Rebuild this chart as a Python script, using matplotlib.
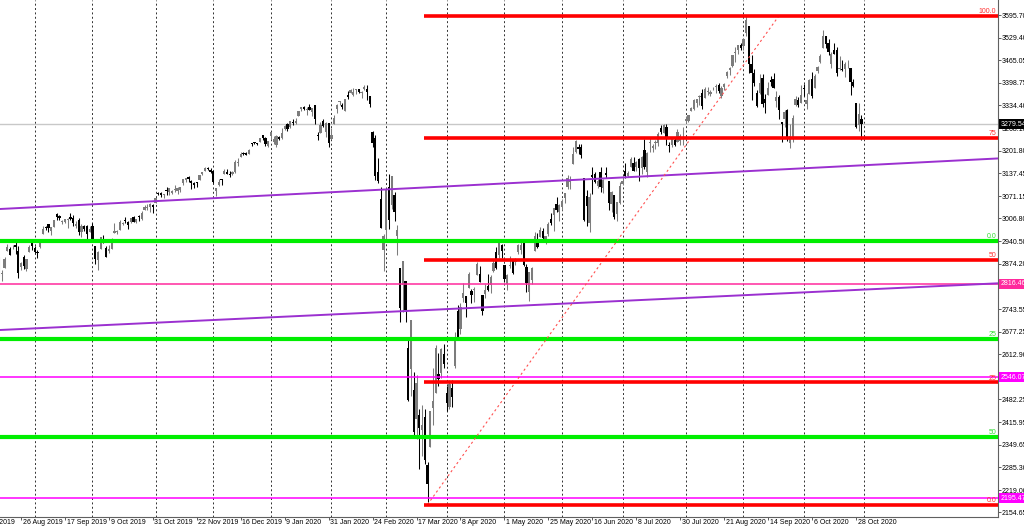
import matplotlib
matplotlib.use("Agg")
import matplotlib.pyplot as plt
import matplotlib.transforms as mtransforms
import numpy as np
import pandas as pd

# US500 daily bars, 13 Aug 2019 .. 30 Oct 2020
# (every weekday except 25 Dec, 1 Jan and Good Friday)
OPEN = [
    2880, 2894, 2846, 2864, 2913, 2919, 2922, 2930, 2911, 2866, 2893, 2861, 2910, 2937,
    2920, 2910, 2924, 2960, 2980, 2989, 2971, 2982, 3019, 3013, 2997, 2996, 3001, 3010, 3008, 2983, 3003, 2968, 2985, 2985, 2967,
    2983, 2925, 2885, 2918, 2945, 2920, 2911, 2919, 2963, 2966, 2974, 2990, 3001, 2996, 2996, 3010, 2995, 3014, 3004, 3032, 3036, 3039, 3046,
    3050, 3079, 3081, 3075, 3087, 3082, 3081, 3090, 3085, 3090, 3108, 3118, 3127, 3114, 3109, 3112, 3118, 3134, 3145, 3153, 3148,
    3144, 3087, 3103, 3119, 3134, 3141, 3135, 3136, 3141, 3166, 3183, 3195, 3195, 3192, 3223, 3226, 3225, 3227, 3247, 3240, 3215,
    3245, 3227, 3218, 3241, 3238, 3266, 3281, 3271, 3285, 3282, 3302, 3323, 3329, 3321, 3330, 3316, 3334, 3248, 3255, 3289, 3256, 3282,
    3235, 3280, 3324, 3344, 3335, 3318, 3365, 3370, 3365, 3378, 3380, 3369, 3380, 3380, 3360, 3258, 3238, 3140, 3063, 2916,
    2974, 3096, 3046, 3075, 2954, 2863, 2814, 2826, 2631, 2569, 2508, 2425, 2436, 2393, 2431, 2291, 2345, 2458, 2501, 2556, 2558, 2614,
    2499, 2459, 2514, 2578, 2738, 2686, 2777, 2782, 2805, 2796, 2799, 2843, 2846, 2785, 2787, 2810, 2812, 2855, 2909, 2901, 2930,
    2870, 2815, 2868, 2884, 2879, 2908, 2915, 2940, 2865, 2794, 2829, 2913, 2948, 2953, 2970, 2948, 2960, 3004, 3016, 3047, 3026,
    3038, 3064, 3098, 3111, 3163, 3199, 3213, 3213, 3123, 3072, 2993, 3131, 3136, 3101, 3140, 3095, 3138, 3115, 3047, 3073, 3018, 3050,
    3105, 3143, 3130, 3155, 3167, 3154, 3177, 3152, 3205, 3141, 3226, 3209, 3224, 3225, 3268, 3254, 3271, 3218, 3219, 3234, 3227, 3231, 3270,
    3289, 3289, 3318, 3324, 3340, 3357, 3370, 3356, 3372, 3368, 3380, 3388, 3392, 3360, 3386, 3418, 3435, 3449, 3485, 3494, 3509,
    3507, 3543, 3564, 3453, 3427, 3371, 3369, 3413, 3352, 3363, 3407, 3411, 3346, 3357, 3285, 3295, 3320, 3226, 3237, 3334, 3350, 3341,
    3385, 3339, 3368, 3409, 3385, 3434, 3459, 3500, 3535, 3515, 3453, 3493, 3494, 3439, 3440, 3438, 3464, 3441, 3403, 3342, 3277, 3294,
]
HIGH = [
    2943, 2894, 2856, 2893, 2931, 2923, 2929, 2939, 2927, 2879, 2899, 2890, 2930, 2940,
    2925, 2914, 2938, 2985, 2985, 2990, 2980, 3001, 3022, 3017, 3003, 3006, 3007, 3022, 3016, 2999, 3007, 2990, 2988, 2988, 2983,
    2993, 2925, 2911, 2953, 2959, 2926, 2929, 2949, 2993, 2972, 3003, 2997, 3009, 3000, 3008, 3014, 3005, 3016, 3027, 3044, 3047, 3050, 3047,
    3066, 3084, 3084, 3078, 3097, 3093, 3088, 3103, 3098, 3097, 3120, 3124, 3128, 3118, 3112, 3113, 3133, 3142, 3155, 3156, 3151,
    3145, 3095, 3120, 3120, 3150, 3149, 3143, 3143, 3176, 3182, 3198, 3198, 3199, 3206, 3226, 3227, 3226, 3240, 3247, 3241, 3232,
    3258, 3246, 3247, 3245, 3268, 3276, 3283, 3288, 3294, 3298, 3317, 3330, 3331, 3329, 3337, 3327, 3334, 3258, 3286, 3293, 3285, 3282,
    3268, 3306, 3337, 3347, 3341, 3352, 3376, 3381, 3385, 3380, 3382, 3375, 3394, 3392, 3360, 3260, 3247, 3182, 3098, 2960,
    3091, 3136, 3130, 3083, 2986, 2863, 2882, 2826, 2660, 2711, 2562, 2553, 2453, 2466, 2453, 2300, 2449, 2572, 2638, 2615, 2631, 2641,
    2522, 2539, 2538, 2676, 2756, 2761, 2818, 2782, 2851, 2801, 2807, 2880, 2868, 2785, 2815, 2845, 2842, 2887, 2922, 2946, 2931,
    2870, 2844, 2898, 2887, 2892, 2932, 2945, 2945, 2875, 2852, 2865, 2968, 2965, 2980, 2978, 2956, 2995, 3021, 3036, 3068, 3049,
    3063, 3081, 3131, 3129, 3212, 3233, 3223, 3223, 3123, 3089, 3079, 3154, 3141, 3121, 3156, 3120, 3155, 3115, 3086, 3073, 3053, 3111,
    3128, 3166, 3145, 3183, 3184, 3172, 3180, 3186, 3236, 3200, 3238, 3221, 3233, 3258, 3278, 3280, 3280, 3227, 3241, 3243, 3264, 3250, 3272,
    3302, 3307, 3330, 3352, 3352, 3364, 3381, 3387, 3387, 3378, 3387, 3396, 3399, 3391, 3399, 3433, 3444, 3481, 3502, 3510, 3514,
    3528, 3594, 3564, 3479, 3440, 3379, 3424, 3425, 3368, 3402, 3419, 3429, 3376, 3363, 3285, 3320, 3324, 3279, 3306, 3361, 3357, 3393,
    3397, 3370, 3409, 3432, 3426, 3447, 3483, 3552, 3535, 3527, 3489, 3515, 3502, 3476, 3465, 3460, 3466, 3441, 3409, 3342, 3341, 3305,
]
LOW = [
    2877, 2839, 2825, 2864, 2913, 2899, 2917, 2904, 2834, 2856, 2860, 2853, 2910, 2914,
    2905, 2892, 2921, 2960, 2972, 2967, 2958, 2980, 3003, 3002, 2991, 2993, 2979, 3003, 2985, 2979, 2957, 2952, 2969, 2946, 2967,
    2938, 2874, 2856, 2918, 2936, 2893, 2907, 2917, 2963, 2962, 2974, 2986, 2992, 2976, 2993, 2995, 2992, 3000, 3001, 3032, 3031, 3026, 3023,
    3050, 3074, 3067, 3065, 3075, 3073, 3076, 3084, 3078, 3082, 3104, 3112, 3113, 3091, 3095, 3097, 3118, 3131, 3143, 3147, 3139,
    3110, 3070, 3100, 3104, 3134, 3135, 3126, 3133, 3138, 3157, 3183, 3191, 3191, 3192, 3216, 3222, 3220, 3227, 3234, 3215, 3213,
    3235, 3222, 3214, 3233, 3236, 3263, 3260, 3268, 3277, 3280, 3302, 3318, 3320, 3307, 3320, 3302, 3281, 3234, 3253, 3271, 3242, 3214,
    3235, 3280, 3313, 3334, 3322, 3317, 3352, 3369, 3360, 3368, 3370, 3356, 3379, 3350, 3328, 3214, 3119, 3108, 2978, 2855,
    2946, 2976, 3034, 2999, 2901, 2707, 2734, 2706, 2478, 2492, 2380, 2367, 2281, 2319, 2295, 2184, 2345, 2407, 2501, 2520, 2545, 2572,
    2447, 2455, 2459, 2574, 2657, 2670, 2763, 2721, 2805, 2761, 2765, 2843, 2821, 2727, 2775, 2796, 2791, 2852, 2860, 2892, 2892,
    2822, 2798, 2863, 2846, 2871, 2902, 2904, 2869, 2793, 2767, 2817, 2913, 2921, 2953, 2939, 2933, 2955, 2988, 2970, 3024, 2999,
    3032, 3052, 3091, 3091, 3163, 3196, 3193, 3181, 2999, 2984, 2966, 3076, 3109, 3093, 3084, 3079, 3123, 3032, 3024, 3004, 2999, 3047,
    3102, 3124, 3125, 3155, 3143, 3145, 3115, 3136, 3149, 3127, 3200, 3198, 3206, 3215, 3251, 3253, 3220, 3200, 3214, 3216, 3227, 3219, 3220,
    3284, 3287, 3317, 3320, 3329, 3336, 3323, 3356, 3363, 3362, 3379, 3371, 3369, 3354, 3379, 3413, 3423, 3444, 3460, 3484, 3493,
    3494, 3535, 3427, 3349, 3390, 3329, 3367, 3329, 3311, 3363, 3390, 3385, 3328, 3293, 3229, 3270, 3232, 3209, 3228, 3332, 3328, 3340,
    3362, 3323, 3368, 3354, 3385, 3429, 3458, 3499, 3500, 3480, 3441, 3484, 3419, 3435, 3433, 3415, 3441, 3364, 3388, 3268, 3259, 3233,
]
CLOSE = [
    2926, 2840, 2848, 2889, 2924, 2900, 2924, 2923, 2847, 2878, 2869, 2888, 2924, 2926,
    2910, 2906, 2937, 2976, 2979, 2979, 2980, 3001, 3010, 3007, 2998, 3006, 3006, 3006, 2992, 2991, 2966, 2984, 2977, 2962, 2977,
    2940, 2888, 2910, 2952, 2938, 2893, 2919, 2938, 2970, 2966, 2995, 2990, 2998, 2986, 3007, 2996, 3005, 3010, 3023, 3039, 3036, 3047, 3038,
    3066, 3078, 3075, 3077, 3085, 3093, 3087, 3092, 3094, 3097, 3120, 3122, 3120, 3108, 3104, 3110, 3133, 3140, 3153, 3150, 3141,
    3113, 3093, 3113, 3117, 3145, 3136, 3133, 3142, 3169, 3168, 3192, 3193, 3191, 3205, 3221, 3224, 3223, 3240, 3240, 3221, 3231,
    3258, 3235, 3246, 3237, 3253, 3275, 3265, 3288, 3283, 3289, 3317, 3329, 3322, 3321, 3321, 3326, 3295, 3244, 3276, 3273, 3284, 3226,
    3249, 3298, 3334, 3345, 3328, 3352, 3358, 3379, 3374, 3380, 3374, 3370, 3386, 3373, 3338, 3226, 3128, 3116, 2979, 2954,
    3090, 3003, 3130, 3024, 2972, 2747, 2882, 2741, 2481, 2711, 2386, 2529, 2398, 2409, 2305, 2237, 2447, 2476, 2630, 2541, 2627, 2585,
    2471, 2527, 2489, 2664, 2660, 2750, 2790, 2762, 2846, 2783, 2800, 2875, 2823, 2737, 2799, 2798, 2837, 2878, 2863, 2939, 2912,
    2830, 2843, 2868, 2848, 2881, 2930, 2930, 2870, 2820, 2852, 2864, 2954, 2922, 2972, 2949, 2955, 2990, 2992, 3036, 3030, 3044,
    3056, 3081, 3123, 3112, 3194, 3232, 3207, 3190, 3002, 3041, 3067, 3125, 3113, 3115, 3098, 3118, 3131, 3050, 3084, 3009, 3053, 3100,
    3116, 3130, 3138, 3179, 3145, 3169, 3152, 3185, 3155, 3197, 3227, 3215, 3224, 3251, 3257, 3276, 3236, 3216, 3239, 3218, 3258, 3246, 3271,
    3295, 3306, 3327, 3349, 3351, 3360, 3333, 3380, 3373, 3373, 3381, 3389, 3375, 3385, 3397, 3431, 3443, 3479, 3485, 3508, 3500,
    3527, 3580, 3455, 3427, 3400, 3332, 3399, 3339, 3341, 3384, 3401, 3385, 3357, 3319, 3281, 3315, 3237, 3246, 3298, 3351, 3335, 3363,
    3381, 3348, 3408, 3361, 3419, 3446, 3477, 3534, 3512, 3489, 3483, 3484, 3427, 3443, 3436, 3453, 3465, 3401, 3391, 3271, 3310, 3279.54,
]

FIRST_DAY = "2019-08-13"
LAST_DAY = "2020-10-30"
NO_BAR_DAYS = ["2019-12-25", "2020-01-01", "2020-04-10"]

PRICE_TICKS = [3595.70, 3529.40, 3465.05, 3398.75, 3334.40, 3268.10, 3201.80,
               3137.45, 3071.15, 3006.80, 2940.50, 2874.20, 2807.85, 2743.55,
               2677.25, 2612.90, 2546.60, 2482.25, 2415.95, 2349.65, 2285.30,
               2219.00, 2154.65]

DATE_LABELS = ["2 Aug 2019", "26 Aug 2019", "17 Sep 2019", "9 Oct 2019",
               "31 Oct 2019", "22 Nov 2019", "16 Dec 2019", "9 Jan 2020",
               "31 Jan 2020", "24 Feb 2020", "17 Mar 2020", "8 Apr 2020",
               "1 May 2020", "25 May 2020", "16 Jun 2020", "8 Jul 2020",
               "30 Jul 2020", "21 Aug 2020", "14 Sep 2020", "6 Oct 2020",
               "28 Oct 2020"]
LABEL_STEP = 16          # bars between time-scale labels
FIRST_LABEL_BAR = -7     # "2 Aug 2019" sits 7 bars before the first shown bar

# red Fibonacci retracement (Mar low -> Sep high)
RED_FIB_LOW = 2177.0
RED_FIB_HIGH = 3594.0
RED_FIB_START = "2020-03-23"
RED_FIB_END = "2020-09-18"
RED_LEVELS = [0.0, 25, 50, 75, 100.0]
RED_LEVEL_TEXT = ["0.0", "25", "50", "75", "100.0"]

# green Fibonacci levels
GREEN_FIB_ZERO = 2941.0
GREEN_FIB_HUNDRED = 1804.0
GREEN_LEVELS = [0.0, 25, 50]
GREEN_LEVEL_TEXT = ["0.0", "25", "50"]

# horizontal marks with price boxes
MARK_PRICES = [2816.46, 2546.07, 2195.47]
MARK_COLORS = ["#ff2a9d", "#ff00ff", "#ff00ff"]
LAST_PRICE = 3279.54

# purple channel (anchor dates / prices)
TREND_DATES = ["2019-08-14", "2020-10-30"]
TREND_UPPER = [3033.4, 3160.0]
TREND_LOWER = [2682.8, 2799.7]

FS = 5.0
FONT = "Liberation Sans"


def main() -> None:
    days = pd.bdate_range(FIRST_DAY, LAST_DAY)
    days = days[~days.isin(pd.to_datetime(NO_BAR_DAYS))]
    pos = {d: i for i, d in enumerate(days)}
    n = len(CLOSE)
    x = np.arange(n)
    o, h, l, c = (np.asarray(v, dtype=float) for v in (OPEN, HIGH, LOW, CLOSE))

    fig = plt.figure(figsize=(10.24, 5.29), dpi=100, facecolor="white")
    ax = fig.add_axes([0, 1 - 517 / 529, 998 / 1024, 517 / 529])
    x_lo, x_hi = 1.355, 364.7
    y_lo, y_hi = 2141.0, 3639.2
    ax.set_xlim(x_lo, x_hi)
    ax.set_ylim(y_lo, y_hi)

    # month separators
    months = [i for i in range(1, n) if days[i].month != days[i - 1].month]
    months.append(n)  # 2 Nov 2020, next bar
    ax.vlines(months, y_lo, y_hi, colors="#303030", linestyles=(0, (2, 2.5)),
              lw=0.7, zorder=1)

    # candles
    up = c >= o
    col = np.where(up, "#7c7c7c", "#000000")
    ax.vlines(x, l, h, colors=col, lw=0.75, zorder=2)
    body_lo = np.minimum(o, c)
    body_h = np.maximum(np.abs(c - o), 2.5)
    ax.bar(x, body_h, bottom=body_lo, width=0.82, color=col, lw=0, zorder=2)

    # last price line
    ax.axhline(LAST_PRICE, color="#c8c8c8", lw=1.0, zorder=1.5)

    # green fib
    tr_y = mtransforms.blended_transform_factory(ax.transAxes, ax.transData)
    for lev, txt in zip(GREEN_LEVELS, GREEN_LEVEL_TEXT):
        p = GREEN_FIB_ZERO + (GREEN_FIB_HUNDRED - GREEN_FIB_ZERO) * lev / 100
        ax.axhline(p, color="#00ee00", lw=3.0, zorder=4)
        ax.text(0.998, p + 2, txt, transform=tr_y, ha="right", va="bottom",
                fontsize=FS, color="#33dd33", family=FONT, zorder=6)

    # marked prices
    for p, colr in zip(MARK_PRICES, MARK_COLORS):
        ax.axhline(p, color=colr, lw=1.1, zorder=4)

    # purple channel
    t0, t1 = pos[pd.Timestamp(TREND_DATES[0])], pos[pd.Timestamp(TREND_DATES[1])]
    for line in (TREND_UPPER, TREND_LOWER):
        ax.axline((t0, line[0]), (t1, line[1]), color="#9b30d0", lw=1.4, zorder=4)

    # red fib
    f0 = pos[pd.Timestamp(RED_FIB_START)]
    f1 = pos[pd.Timestamp(RED_FIB_END)]
    ax.plot([f0, f1], [RED_FIB_LOW, RED_FIB_HIGH], color="#ff5050", lw=0.8,
            ls=(0, (2, 2.5)), zorder=4)
    for lev, txt in zip(RED_LEVELS, RED_LEVEL_TEXT):
        p = RED_FIB_LOW + (RED_FIB_HIGH - RED_FIB_LOW) * lev / 100
        ax.hlines(p, f0 - 1.2, x_hi + 5, color="#ff0000", lw=2.6, zorder=5)
        ax.text(0.998, p + 2, txt, transform=tr_y, ha="right", va="bottom",
                fontsize=FS, color="#ff3030", family=FONT, zorder=6)

    # axes frame
    for side in ("left", "top"):
        ax.spines[side].set_visible(False)
    for side in ("right", "bottom"):
        ax.spines[side].set_color("#606060")
        ax.spines[side].set_linewidth(0.8)

    ax.yaxis.tick_right()
    ax.set_yticks(PRICE_TICKS)
    ax.set_yticklabels([f"{v:.2f}" for v in PRICE_TICKS], family=FONT)
    ax.tick_params(axis="y", length=2, width=0.6, pad=0.6, labelsize=FS,
                   color="#404040")

    label_pos = [FIRST_LABEL_BAR + LABEL_STEP * k for k in range(len(DATE_LABELS))]
    ax.set_xticks([p for p in label_pos if x_lo <= p <= x_hi])
    ax.tick_params(axis="x", length=2, width=0.6, labelbottom=False, color="#404040")
    tr = mtransforms.blended_transform_factory(ax.transData, ax.transAxes)
    for p, lab in zip(label_pos, DATE_LABELS):
        ax.text(p + 0.6, -0.0105, lab, transform=tr, ha="left", va="center",
                fontsize=FS, family=FONT, clip_on=False)

    # price boxes on the scale
    boxes = [(LAST_PRICE, "#000000")] + list(zip(MARK_PRICES, MARK_COLORS))
    for p, colr in boxes:
        ax.text(1.0025, p, f"{p:.2f}", transform=tr_y, ha="left", va="center",
                fontsize=FS, family=FONT, color="white", clip_on=False, zorder=10,
                bbox=dict(boxstyle="square,pad=0.25", fc=colr, ec="none"))

    fig.savefig("out.png", dpi=100, facecolor="white")
    plt.close(fig)


if __name__ == "__main__":
    main()
